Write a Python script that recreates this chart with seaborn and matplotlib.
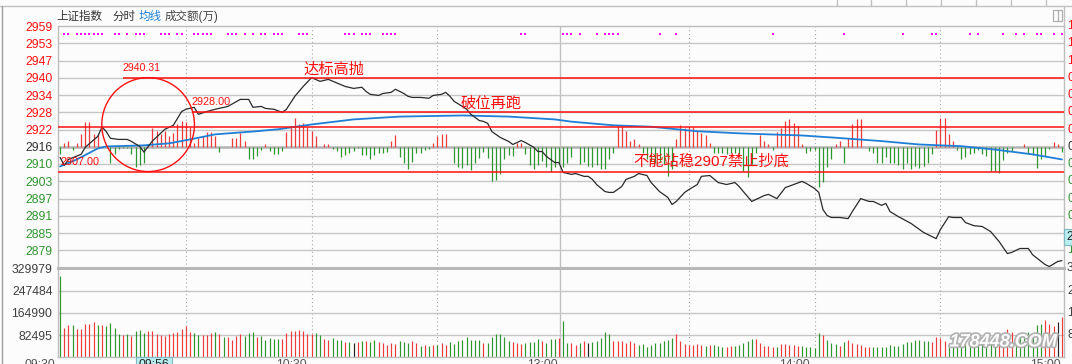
import numpy as np
import pandas as pd
import matplotlib
matplotlib.use("Agg")
import matplotlib.pyplot as plt
import matplotlib.patheffects as pe
from matplotlib.patches import Ellipse, Rectangle
from matplotlib.lines import Line2D
import seaborn as sns

sns.set_theme(style="white")
plt.rcParams['font.family'] = ['Liberation Sans', 'Noto Sans CJK SC', 'DejaVu Sans']

# ---- data ----
prev_close = 2915.8
grid_step = 6.12
price_labels = ["2959", "2953", "2947", "2940", "2934", "2928", "2922", "2916",
                "2910", "2903", "2897", "2891", "2885", "2879"]
pct_labels = ["1.47%", "1.26%", "1.05%", "0.84%", "0.63%", "0.42%", "0.21%", "0.00%",
              "0.21%", "0.42%", "0.63%", "0.84%", "1.05%", "1.26%"]
vol_ticks = [329979, 247484, 164990, 82495]
vol_labels = ["329979", "247484", "164990", "82495"]
time_labels = ["09:30", "10:30", "13:00", "14:00", "15:00"]
time_minutes = [0, 60, 120, 180, 240]
cursor_label = "09:56"
cursor_minute = 26
cursor_price = 2883.8
cursor_price_label = "2883.76"

# minute index (0..239) and price of the index line
price_min = [0, 1, 2, 5, 6, 9, 10, 11, 12, 14, 16, 17, 19, 20, 22, 25, 27, 29, 30, 32,
             33, 35, 37, 40, 43, 45, 46, 48, 49, 51, 53, 54, 56, 58, 60, 62, 64, 68, 70, 72,
             73, 74, 76, 77, 79, 80, 82, 83, 84, 86, 88, 89, 91, 92, 93, 94, 96, 97, 98, 100,
             101, 102, 103, 105, 107, 108, 109, 110, 111, 113, 114, 115, 116, 118, 119, 120, 122, 123, 125, 126,
             127, 128, 130, 131, 132, 134, 135, 137, 138, 140, 141, 143, 145, 146, 147, 149, 150, 152, 153, 155,
             157, 159, 161, 162, 163, 165, 168, 169, 171, 173, 177, 178, 180, 181, 182, 183, 184, 186, 188, 189,
             191, 193, 194, 196, 197, 198, 200, 203, 206, 209, 210, 212, 213, 215, 216, 218, 220, 222, 224, 226,
             227, 229, 231, 232, 235, 236, 238, 239]
price = [2912.0, 2909.2, 2911.3, 2913.1, 2915.6, 2919.5, 2922.8, 2921.2, 2918.8, 2918.4,
         2918.4, 2917.7, 2915.9, 2913.9, 2917.8, 2922.0, 2923.4, 2928.3, 2929.1, 2929.8,
         2927.3, 2928.3, 2929.1, 2930.1, 2932.6, 2932.6, 2929.8, 2930.1, 2929.4, 2929.1,
         2928.0, 2929.1, 2933.7, 2937.2, 2940.31, 2939.0, 2939.7, 2937.2, 2936.5, 2936.9,
         2935.4, 2934.4, 2934.0, 2934.7, 2935.1, 2936.2, 2934.7, 2933.7, 2933.3, 2933.3,
         2933.0, 2934.0, 2934.4, 2935.1, 2933.7, 2931.9, 2930.1, 2929.1, 2927.3, 2925.1,
         2924.8, 2924.1, 2921.2, 2919.1, 2917.7, 2916.6, 2917.3, 2918.0, 2917.3, 2915.6,
         2914.1, 2914.1, 2912.4, 2910.2, 2910.2, 2906.7, 2906.0, 2906.3, 2905.3, 2905.3,
         2904.2, 2902.4, 2899.9, 2899.6, 2899.6, 2901.7, 2904.2, 2905.3, 2906.3, 2905.6,
         2903.1, 2899.9, 2897.8, 2895.3, 2896.4, 2899.6, 2900.6, 2902.4, 2905.3, 2905.6,
         2903.1, 2902.4, 2903.1, 2901.7, 2899.9, 2896.4, 2898.5, 2898.9, 2897.4, 2901.3,
         2903.5, 2902.8, 2901.0, 2899.6, 2893.5, 2891.4, 2890.7, 2890.7, 2890.3, 2892.8,
         2897.4, 2896.4, 2896.4, 2895.0, 2895.7, 2892.8, 2891.0, 2888.6, 2885.4, 2883.2,
         2886.4, 2891.0, 2890.7, 2890.7, 2888.9, 2887.8, 2887.5, 2885.7, 2882.2, 2877.9,
         2878.3, 2879.7, 2879.7, 2877.5, 2874.0, 2873.3, 2875.1, 2875.4]

avg_min = [0, 4, 9, 11, 20, 26, 31, 37, 46, 52, 60, 70, 81, 96, 107, 118, 122, 132, 141, 152,
           163, 177, 185, 196, 205, 215, 223, 232, 239]
avg_price = [2908.8, 2911.3, 2915.2, 2915.9, 2916.3, 2917.0, 2918.4, 2920.2, 2921.2, 2922.0,
             2923.7, 2925.5, 2926.5, 2926.9, 2926.5, 2925.5, 2924.7, 2923.4, 2922.9, 2921.3,
             2920.5, 2919.8, 2919.0, 2917.8, 2916.6, 2916.0, 2914.8, 2913.1, 2911.3]

# up/down breadth bars around the previous close (indicator units)
breadth = [-7.7, 4, 5.7, -3.3, 4, 12.3, 24.6, 24.6, 12.3, 12.3,
           0, 0, -16, -7.7, -2, -1, -1, -7.7, -20, -18.7,
           -16, 0, 19, 15.6, 12.3, 15.6, 10.6, 14, 22.3, 25.6,
           25, 20, 3.3, 9, 10.7, 14.7, 14.7, 10.7, -5.3, 0,
           0, 9, 9, 14, 5.7, -12, -12, -9.3, -3.3, 2.3,
           -4.3, -7.7, -7.7, -4.3, 15, 20.6, 29, 22.3, 23.3, 20,
           15.6, 10.6, 0, 2.3, 2.3, -2, -4.3, -10, -8.7, -6.7,
           -4.3, -1, -8.7, -8.7, -12, -8.7, -6, -6.7, -5.3, 5.7,
           11.3, -10, -16, -22, -15.3, -6, -6.7, -3.3, -2, 3.3,
           10.6, 12.3, 12.3, 0, -16, -20, -21, -18.7, -23.3, -16,
           -11, -5.3, -11, -34.3, -33.3, -27.7, -12, -8.7, -9.3, 4,
           4, -7.7, -18.7, -22.7, -18.7, -14.3, -20, -25.3, -20, -16,
           -20, -16, -10, 0, -17.7, -15.3, -19.3, -20, -18.7, -22.7,
           -22, -12, -6.7, 20.6, 20.6, 15.6, 5.7, 7.3, 2.3, -6,
           -12.7, -14.3, -16, -15.3, -17.7, -29.3, -22.7, 7.3, 21.3, 19,
           20, 20, 15.6, 14, 11.3, 4, -6, -6, -6.7, -7.7,
           -6.7, -6.7, -7.7, -24.3, -30, -17.7, -6, 11.3, 5.7, 2.3,
           -3.3, 14.6, 19, 25.6, 27.3, 24, 20.6, 2.3, -6.7, -4.3,
           -3.3, -40, -35.3, -20, -12, 2.3, 5.7, -16.7, 9, 22.3,
           27.3, 27.3, 0, -4.3, -6.7, -16, -16.7, -10, -16, -16,
           -18.7, -22, -16, -22, -19.3, -21, -19.3, -16, -7.7, 16.6,
           29, 29, 12.3, 5.7, -3.3, -12.7, -10, -7.7, -6, -3.3,
           -7.7, -9.3, -24.3, -24.3, -26.7, -13.3, -6, -4.3, 0, 0,
           2.3, -7.7, -8.7, -21, -12.7, -9.3, -2.7, 4.7, 2.3, -5.3]
breadth_scale = 0.3552

# turnover per minute (万) and bar colour code
volume = [301500, 107500, 119800, 119800, 104900, 104900, 123500, 123500, 130900, 119800,
          119800, 116100, 127200, 108600, 86400, 82700, 86400, 79000, 97500, 101200,
          90100, 97500, 97500, 86400, 82700, 79000, 86400, 90100, 93800, 104900,
          116100, 93800, 90100, 82700, 82700, 82700, 90100, 93800, 86400, 75300,
          75300, 64100, 79000, 86400, 79000, 90100, 93800, 75300, 79000, 64100,
          71600, 67900, 67900, 67900, 90100, 97500, 97500, 101200, 97500, 86400,
          86400, 90100, 82700, 67900, 64100, 71600, 64100, 64100, 56700, 56700,
          53000, 56700, 60400, 60400, 56700, 64100, 56700, 53000, 45600, 53000,
          49300, 60400, 56700, 53000, 60400, 53000, 41900, 45600, 41900, 45600,
          45600, 53000, 45600, 56700, 49300, 60400, 64100, 75300, 64100, 64100,
          64100, 53000, 53000, 75300, 86400, 86400, 75300, 60400, 56700, 53000,
          49300, 53000, 56700, 56700, 67900, 60400, 53000, 67900, 67900, 71600,
          134600, 53000, 53000, 45600, 53000, 60400, 53000, 56700, 60400, 71600,
          93800, 86400, 60400, 60400, 60400, 53000, 60400, 53000, 45600, 49300,
          38200, 45600, 53000, 53000, 60400, 64100, 71600, 86400, 60400, 49300,
          45600, 45600, 49300, 45600, 41900, 45600, 45600, 41900, 38200, 38200,
          41900, 41900, 45600, 53000, 60400, 67900, 67900, 53000, 41900, 41900,
          38200, 38200, 49300, 49300, 45600, 45600, 41900, 41900, 38200, 38200,
          34500, 90100, 82700, 64100, 53000, 49300, 41900, 56700, 64100, 53000,
          49300, 45600, 38200, 38200, 38200, 38200, 38200, 38200, 45600, 41900,
          41900, 49300, 56700, 56700, 64100, 64100, 60400, 60400, 56700, 75300,
          71600, 60400, 49300, 45600, 41900, 49300, 49300, 53000, 53000, 53000,
          60400, 64100, 67900, 67900, 71600, 64100, 103800, 93800, 79000, 86400,
          86400, 95300, 79000, 119800, 123500, 138300, 123500, 116100, 129800, 149400]
vol_dir = ("grrgrrrrrg" "rggggrgrgg" "grrrrrrrrr" "rrggrrrgrg" "rrrrgggrgg" "gggrrrrrrr"
           "rggrrgggrg" "krgrggrrrr" "rgggrrgrgr" "grrggggggg" "grggggggrr" "rggggrgggr"
           "ggrrgrkggg" "ggrrrrrrgg" "gggggggrrr" "rrrrgrgggr" "rgggggrrrr" "rgrrrrrggg"
           "ggrgggrgrr" "rrrrgggggg" "ggggggggrr" "rrgggggggg" "ggggrrrrgg" "gggggrrrkr")

# minutes with a magenta signal dot
dot_min = [1, 2, 4, 5, 6, 7, 8, 9, 10, 13, 14, 16, 18, 19, 20, 24, 25, 26, 28, 29,
           32, 33, 34, 35, 36, 40, 41, 42, 44, 46, 48, 49, 51, 52, 53, 57, 58, 59, 68, 69,
           70, 72, 73, 74, 77, 78, 79, 80, 110, 111, 120, 121, 122, 124, 128, 130, 131, 132, 133, 143,
           147, 170, 187, 201, 208, 209, 217, 219, 225, 228, 230, 233, 234, 237, 239]

high_price, high_from = 2940.31, 15
mid_price, mid_from = 2928.00, 31.5
band_price = 2922.9
low_price = 2907.00

RED, GREEN, BLUE, GRID = '#ff1010', '#2e962e', '#1f7fd6', '#c6c6c6'
BG = '#fcfcfc'

W, H = 1072, 364
fig = plt.figure(figsize=(W / 100, H / 100), dpi=100, facecolor=BG)
L, R = 58, 1064
axp = fig.add_axes([L / W, 1 - 267.5 / H, (R - L) / W, 241.5 / H], facecolor=BG)
axv = fig.add_axes([L / W, 1 - 357.3 / H, (R - L) / W, 89 / H], facecolor=BG)

top = prev_close + 7 * grid_step
bot = prev_close - 7 * grid_step
price_ticks = [prev_close + (7 - i) * grid_step for i in range(len(price_labels))]

for ax in (axp, axv):
    ax.set_xlim(-0.5, 239.5)
    ax.set_xticks([])
    for s in ax.spines.values():
        s.set_color('#bdbdbd')
        s.set_linewidth(1.0)
    for m in (30, 60, 90, 150, 180, 210):
        ax.axvline(m, color='#a8a8a8', lw=0.8, ls=(0, (1, 2.5)), zorder=1)
    ax.axvline(119.3, color='#c0c0c0', lw=1.0, zorder=1)
    ax.tick_params(axis='y', length=0, pad=4, labelsize=8.8)

# ---- price panel ----
axp.set_ylim(bot, top)
axp.set_yticks(price_ticks)
axp.set_yticklabels(price_labels)
for t, v in zip(axp.get_yticklabels(), price_ticks):
    t.set_color(RED if v > prev_close + 0.1 else (GREEN if v < prev_close - 0.1 else '#333333'))
for v in price_ticks[1:]:
    axp.axhline(v, color=GRID, lw=1.0, zorder=1)
axp.axhline(prev_close, color='#b4b4b4', lw=1.8, zorder=1)
axp.spines['bottom'].set_visible(False)

bk = np.arange(len(breadth))
bv = np.array(breadth) * breadth_scale
axp.vlines(bk, prev_close, prev_close + bv, colors=np.where(bv > 0, '#f03a3a', GREEN),
           lw=0.9, zorder=2)

axp.scatter(dot_min, np.full(len(dot_min), top - 2.85), marker='s', s=2.2,
            color='#ff00ff', linewidths=0, zorder=3)

pdf = pd.DataFrame({'minute': price_min, 'price': price})
adf = pd.DataFrame({'minute': avg_min, 'price': avg_price})
sns.lineplot(data=adf, x='minute', y='price', ax=axp, color=BLUE, lw=1.3, zorder=4)
sns.lineplot(data=pdf, x='minute', y='price', ax=axp, color='#2a2a2a', lw=0.9, zorder=5)
axp.set_xlabel('')
axp.set_ylabel('')

axp.hlines(high_price, high_from, 239.5, color=RED, lw=1.1, zorder=6)
axp.hlines(mid_price, mid_from, 239.5, color=RED, lw=1.1, zorder=6)
axp.hlines(band_price, -0.5, 239.5, color=RED, lw=1.1, zorder=6)
axp.hlines(low_price, -0.5, 239.5, color=RED, lw=1.1, zorder=6)
axp.add_patch(Ellipse((21, (high_price + low_price) / 2), width=22.1,
                      height=high_price - low_price, fill=False, ec=RED, lw=1.0, zorder=6))

axp.text(15, high_price + 3.6, f"{high_price:.2f}", color=RED, fontsize=7.6, va='center', zorder=7)
axp.text(31.3, mid_price + 3.7, f"{mid_price:.2f}", color=RED, fontsize=7.8, va='center', zorder=7)
axp.text(0.1, low_price + 3.4, f"{low_price:.2f}", color=RED, fontsize=7.8, va='center', zorder=7)
axp.text(58, 2943.1, "达标高抛", color=RED, fontsize=11, va='center', zorder=7)
axp.text(95.6, 2931.0, "破位再跑", color=RED, fontsize=11, va='center', zorder=7)
axp.text(136.7, 2910.4, "不能站稳2907禁止抄底", color=RED, fontsize=11, va='center', zorder=7)

ytr = axp.get_yaxis_transform()
for v, lab in zip(price_ticks, pct_labels):
    if abs(v - cursor_price) < 3:
        continue  # hidden under the cursor price box
    c = RED if v > prev_close + 0.1 else (GREEN if v < prev_close - 0.1 else '#333333')
    axp.text(1 + 3 / (R - L), v, lab, transform=ytr, color=c, fontsize=8.8,
             va='center', ha='left', clip_on=False)
axp.text(1 + 2 / (R - L), cursor_price, cursor_price_label, transform=ytr, color='#222222',
         fontsize=8.8, va='center', ha='left', clip_on=False,
         bbox=dict(boxstyle='square,pad=0.15', fc='#b8eef0', ec='#7fb8bf', lw=0.8))

# ---- volume panel ----
axv.set_ylim(0, vol_ticks[0])
axv.set_yticks(vol_ticks)
axv.set_yticklabels(vol_labels, color='#404040')
for v in vol_ticks[1:]:
    axv.axhline(v, color=GRID, lw=1.0, zorder=1)
axv.spines['top'].set_linewidth(2.2)
axv.spines['top'].set_color('#b8b8b8')
cmap = {'r': '#f03a3a', 'g': GREEN, 'k': '#222222'}
vk = np.arange(len(volume))
axv.vlines(vk, 0, volume, colors=[cmap[c] for c in vol_dir], lw=0.85, zorder=2)
vtr = axv.get_yaxis_transform()
for v, lab in zip(vol_ticks, vol_labels):
    axv.text(1 + 3 / (R - L), v, lab, transform=vtr, color='#404040', fontsize=8.8,
             va='center', ha='left', clip_on=False)

xtr = axv.get_xaxis_transform()
for m, lab in zip(time_minutes, time_labels):
    axv.text(m - 1.2, -0.02, lab, transform=xtr, ha='right', va='top',
             fontsize=8.8, color='#555555', clip_on=False)
axv.text(cursor_minute, -0.02, cursor_label, transform=xtr, ha='right', va='top',
         fontsize=8.8, color='#222222', clip_on=False,
         bbox=dict(boxstyle='square,pad=0.2', fc='#b8eef0', ec='#7fb8bf', lw=0.8))

# watermark
fig.text(1003 / W, 1 - 342 / H, "178448.COM", fontsize=13, fontweight='bold',
         style='italic', color='white', ha='center', va='center', alpha=0.95,
         path_effects=[pe.withStroke(linewidth=2.5, foreground='#b0b0b0')])

# ---- window chrome ----
fig.text(56 / W, 1 - 16.5 / H, "上证指数", fontsize=8.3, color='#333333', va='center')
fig.text(112 / W, 1 - 16.5 / H, "分时", fontsize=8.3, color='#333333', va='center')
fig.text(139 / W, 1 - 16.5 / H, "均线", fontsize=8.3, color=BLUE, va='center')
fig.text(165 / W, 1 - 16.5 / H, "成交额(万)", fontsize=8.3, color='#444444', va='center')

fig.add_artist(Line2D([0, 1], [1 - 5.5 / H, 1 - 5.5 / H], color='#c0c0c0', lw=1.0))
fig.add_artist(Line2D([1.5 / W, 1.5 / W], [0, 1 - 5.5 / H], color='#a0a0a0', lw=1.0))
for x in (837, 871, 906, 941, 976, 1011, 1046):
    fig.add_artist(Line2D([x / W, x / W], [1 - 5.5 / H, 1], color='#c0c0c0', lw=1.0))
fig.add_artist(Line2D([R / W, R / W], [1 - 5.5 / H, 1 - 26 / H], color='#c0c0c0', lw=1.0))
fig.add_artist(Rectangle((1053 / W, 1 - 21 / H), 9 / W, 11 / H, fill=False, ec='#b0b0b0', lw=0.9))
fig.add_artist(Line2D([1057.5 / W, 1057.5 / W], [1 - 21 / H, 1 - 10 / H], color='#b0b0b0', lw=0.9))

fig.savefig("out.png", dpi=100, facecolor=BG)
